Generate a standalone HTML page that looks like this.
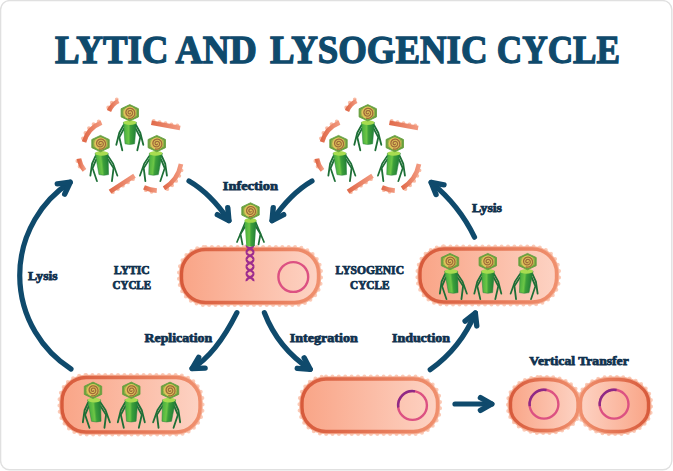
<!DOCTYPE html>
<html><head><meta charset="utf-8"><style>
html,body{margin:0;padding:0;background:#fff;width:673px;height:471px;overflow:hidden}
svg{display:block}
</style></head><body>
<svg width="673" height="471" viewBox="0 0 673 471">
<defs>
<linearGradient id="tailg" x1="0" y1="0" x2="1" y2="0">
<stop offset="0" stop-color="#44ac3e"/><stop offset="0.4" stop-color="#6cc646"/><stop offset="0.55" stop-color="#3c9f3a"/><stop offset="1" stop-color="#1f7c36"/></linearGradient>
<linearGradient id="fr" gradientUnits="objectBoundingBox" x1="0" y1="0" x2="1" y2="0"><stop offset="0" stop-color="#e06a4a"/><stop offset="1" stop-color="#f29a80"/></linearGradient>
<linearGradient id="fillA" gradientUnits="userSpaceOnUse" x1="181" y1="0" x2="319" y2="0"><stop offset="0" stop-color="#f9a486"/><stop offset="1" stop-color="#fdd3c4"/></linearGradient><linearGradient id="strA" gradientUnits="userSpaceOnUse" x1="181" y1="0" x2="319" y2="0"><stop offset="0" stop-color="#d75a3b"/><stop offset="1" stop-color="#f0906e"/></linearGradient><linearGradient id="fillB" gradientUnits="userSpaceOnUse" x1="419" y1="0" x2="558" y2="0"><stop offset="0" stop-color="#f9a486"/><stop offset="1" stop-color="#fdd3c4"/></linearGradient><linearGradient id="strB" gradientUnits="userSpaceOnUse" x1="419" y1="0" x2="558" y2="0"><stop offset="0" stop-color="#d75a3b"/><stop offset="1" stop-color="#f0906e"/></linearGradient><linearGradient id="fillC" gradientUnits="userSpaceOnUse" x1="60" y1="0" x2="202" y2="0"><stop offset="0" stop-color="#f9a486"/><stop offset="1" stop-color="#fdd3c4"/></linearGradient><linearGradient id="strC" gradientUnits="userSpaceOnUse" x1="60" y1="0" x2="202" y2="0"><stop offset="0" stop-color="#d75a3b"/><stop offset="1" stop-color="#f0906e"/></linearGradient><linearGradient id="fillD" gradientUnits="userSpaceOnUse" x1="300" y1="0" x2="439" y2="0"><stop offset="0" stop-color="#f9a486"/><stop offset="1" stop-color="#fdd3c4"/></linearGradient><linearGradient id="strD" gradientUnits="userSpaceOnUse" x1="300" y1="0" x2="439" y2="0"><stop offset="0" stop-color="#d75a3b"/><stop offset="1" stop-color="#f0906e"/></linearGradient><linearGradient id="fillE" gradientUnits="userSpaceOnUse" x1="509" y1="0" x2="579" y2="0"><stop offset="0" stop-color="#f9a486"/><stop offset="1" stop-color="#fdd3c4"/></linearGradient><linearGradient id="strE" gradientUnits="userSpaceOnUse" x1="509" y1="0" x2="579" y2="0"><stop offset="0" stop-color="#d75a3b"/><stop offset="1" stop-color="#f0906e"/></linearGradient><linearGradient id="fillF" gradientUnits="userSpaceOnUse" x1="579" y1="0" x2="650" y2="0"><stop offset="0" stop-color="#fdd3c4"/><stop offset="1" stop-color="#f9a486"/></linearGradient><linearGradient id="strF" gradientUnits="userSpaceOnUse" x1="579" y1="0" x2="650" y2="0"><stop offset="0" stop-color="#f0906e"/><stop offset="1" stop-color="#d75a3b"/></linearGradient>
<g id="phageHead" transform="scale(1.05)">
<polygon points="0,-7.8 8.3,-3.9 8.3,3.9 0,7.8 -8.3,3.9 -8.3,-3.9" fill="#68a03e" stroke="#68a03e" stroke-width="0.8" stroke-linejoin="round"/>
<polygon points="0,-6.3 6.8,-3.1 6.8,3.1 0,6.3 -6.8,3.1 -6.8,-3.1" fill="#9fb04a"/>
<circle r="5.9" fill="#dec45a"/>
<path d="M0.50,0.00 L0.55,0.10 L0.58,0.22 L0.59,0.35 L0.56,0.49 L0.50,0.63 L0.41,0.77 L0.28,0.89 L0.12,0.98 L-0.06,1.05 L-0.26,1.08 L-0.47,1.07 L-0.69,1.02 L-0.91,0.92 L-1.11,0.78 L-1.29,0.59 L-1.43,0.37 L-1.54,0.11 L-1.59,-0.18 L-1.59,-0.48 L-1.54,-0.78 L-1.42,-1.08 L-1.24,-1.37 L-1.01,-1.62 L-0.73,-1.83 L-0.40,-1.99 L-0.03,-2.09 L0.35,-2.12 L0.75,-2.08 L1.14,-1.97 L1.52,-1.78 L1.86,-1.51 L2.16,-1.19 L2.39,-0.80 L2.56,-0.36 L2.64,0.10 L2.64,0.59 L2.55,1.08 L2.36,1.55 L2.09,1.99 L1.73,2.39 L1.30,2.71 L0.81,2.96 L0.27,3.12 L-0.30,3.18 L-0.88,3.13 L-1.46,2.98 L-2.01,2.72 L-2.51,2.35 L-2.94,1.90 L-3.29,1.36 L-3.54,0.76 L-3.68,0.12 L-3.70,-0.56 L-3.60,-1.23 L-3.38,-1.89 L-3.03,-2.51 L-2.57,-3.06 L-2.01,-3.52 L-1.36,-3.88 L-0.65,-4.12 L0.10,-4.24 L0.87,-4.21 L1.64,-4.04 L2.37,-3.73 L3.04,-3.29 L3.63,-2.73 L4.12,-2.06 L4.48,-1.30 L4.70,-0.48 L4.77,0.38 L4.69,1.24 L4.44,2.09 L4.04,2.89 L3.50,3.61 L2.83,4.24 L2.05,4.73 L1.18,5.08 L0.25,5.27 L-0.71,5.29 L-1.67,5.14" fill="none" stroke="#a06a3a" stroke-width="1.25"/>
</g>
<g id="phageBody">
<g stroke="#1d6f36" stroke-width="1.8" fill="none" stroke-linecap="round" stroke-linejoin="round">
<polyline points="-6.3,12.5 -10.5,20 -13.5,32"/>
<polyline points="-6,16 -10.5,24.5 -7.5,37.5"/>
<polyline points="6.3,12.5 10.5,20 13.5,32"/>
<polyline points="6,16 10.5,24.5 7.5,37.5"/>
</g>
<path d="M-6.4,9.5 L6.6,9.5 L4.8,31 Q0,32.4 -4.8,31 Z" fill="url(#tailg)" stroke="#23803a" stroke-width="0.5"/>
<ellipse cx="0.1" cy="9.8" rx="6.5" ry="2.4" fill="#a8dc50"/>
</g>
</defs>
<style>
.ar{fill:none;stroke:#0f4a6c;stroke-width:5.2;stroke-linecap:round}
.ah{fill:none;stroke:#0f4a6c;stroke-width:5.4;stroke-linecap:round;stroke-linejoin:round}
text{font-family:"Liberation Serif",serif;font-weight:bold;fill:#10314e;stroke:#10314e;stroke-width:0.75}
</style>
<rect x="0.6" y="0.6" width="671.2" height="469.2" rx="9" fill="#fff" stroke="#e0e0e0" stroke-width="1.4"/>
<text x="55" y="62.6" font-size="39" textLength="113.5" lengthAdjust="spacingAndGlyphs" style="fill:#0f4a6c;stroke:#0f4a6c;stroke-width:1.3">LYTIC</text><text x="175.6" y="62.6" font-size="39" textLength="81.20000000000002" lengthAdjust="spacingAndGlyphs" style="fill:#0f4a6c;stroke:#0f4a6c;stroke-width:1.3">AND</text><text x="270" y="62.6" font-size="39" textLength="217.5" lengthAdjust="spacingAndGlyphs" style="fill:#0f4a6c;stroke:#0f4a6c;stroke-width:1.3">LYSOGENIC</text><text x="496.8" y="62.6" font-size="39" textLength="123.19999999999999" lengthAdjust="spacingAndGlyphs" style="fill:#0f4a6c;stroke:#0f4a6c;stroke-width:1.3">CYCLE</text><g transform="translate(0,0)">
<path d="M109,111 Q112,104 118.5,101" fill="none" stroke="#f9bba4" stroke-width="3.8" stroke-dasharray="0 6" stroke-dashoffset="-2" stroke-linecap="round" transform="translate(-1.70,-1.70)"/>
<path d="M109,111 Q112,104 118.5,101" fill="none" stroke="url(#fr)" stroke-width="4.6"/>
<path d="M151.4,122.7 L180.1,128" fill="none" stroke="#f9bba4" stroke-width="3.8" stroke-dasharray="0 6" stroke-dashoffset="-2" stroke-linecap="round" transform="translate(0.34,-2.04)"/>
<path d="M151.4,122.7 L180.1,128" fill="none" stroke="url(#fr)" stroke-width="4.6"/>
<path d="M84,142 Q88,128 101.5,122.6" fill="none" stroke="#f9bba4" stroke-width="3.8" stroke-dasharray="0 6" stroke-dashoffset="-2" stroke-linecap="round" transform="translate(-1.70,-1.70)"/>
<path d="M84,142 Q88,128 101.5,122.6" fill="none" stroke="url(#fr)" stroke-width="4.6"/>
<path d="M79,158.7 Q80,165 84.5,170.4" fill="none" stroke="#f9bba4" stroke-width="3.8" stroke-dasharray="0 6" stroke-dashoffset="-2" stroke-linecap="round" transform="translate(-2.04,0.34)"/>
<path d="M79,158.7 Q80,165 84.5,170.4" fill="none" stroke="url(#fr)" stroke-width="4.6"/>
<path d="M110,191.6 L134.5,175.7" fill="none" stroke="#f9bba4" stroke-width="3.8" stroke-dasharray="0 6" stroke-dashoffset="-2" stroke-linecap="round" transform="translate(1.19,1.70)"/>
<path d="M110,191.6 L134.5,175.7" fill="none" stroke="url(#fr)" stroke-width="4.6"/>
<path d="M144,187.4 Q150,190 156.8,190.6" fill="none" stroke="#f9bba4" stroke-width="3.8" stroke-dasharray="0 6" stroke-dashoffset="-2" stroke-linecap="round" transform="translate(0.00,2.04)"/>
<path d="M144,187.4 Q150,190 156.8,190.6" fill="none" stroke="url(#fr)" stroke-width="4.6"/>
<path d="M164,188.4 Q178,180 181,164" fill="none" stroke="#f9bba4" stroke-width="3.8" stroke-dasharray="0 6" stroke-dashoffset="-2" stroke-linecap="round" transform="translate(1.70,1.70)"/>
<path d="M164,188.4 Q178,180 181,164" fill="none" stroke="url(#fr)" stroke-width="4.6"/>
<g transform="translate(129.8,112.8) scale(1.0)"><use href="#phageBody" transform="skewX(0)"/><use href="#phageHead"/></g>
<g transform="translate(100.5,143.6) scale(1)"><use href="#phageBody" transform="skewX(6)"/><use href="#phageHead"/></g>
<g transform="translate(156.8,143.6) scale(1)"><use href="#phageBody" transform="skewX(-6)"/><use href="#phageHead"/></g>
</g><g transform="translate(238,0)">
<path d="M109,111 Q112,104 118.5,101" fill="none" stroke="#f9bba4" stroke-width="3.8" stroke-dasharray="0 6" stroke-dashoffset="-2" stroke-linecap="round" transform="translate(-1.70,-1.70)"/>
<path d="M109,111 Q112,104 118.5,101" fill="none" stroke="url(#fr)" stroke-width="4.6"/>
<path d="M151.4,122.7 L180.1,128" fill="none" stroke="#f9bba4" stroke-width="3.8" stroke-dasharray="0 6" stroke-dashoffset="-2" stroke-linecap="round" transform="translate(0.34,-2.04)"/>
<path d="M151.4,122.7 L180.1,128" fill="none" stroke="url(#fr)" stroke-width="4.6"/>
<path d="M84,142 Q88,128 101.5,122.6" fill="none" stroke="#f9bba4" stroke-width="3.8" stroke-dasharray="0 6" stroke-dashoffset="-2" stroke-linecap="round" transform="translate(-1.70,-1.70)"/>
<path d="M84,142 Q88,128 101.5,122.6" fill="none" stroke="url(#fr)" stroke-width="4.6"/>
<path d="M79,158.7 Q80,165 84.5,170.4" fill="none" stroke="#f9bba4" stroke-width="3.8" stroke-dasharray="0 6" stroke-dashoffset="-2" stroke-linecap="round" transform="translate(-2.04,0.34)"/>
<path d="M79,158.7 Q80,165 84.5,170.4" fill="none" stroke="url(#fr)" stroke-width="4.6"/>
<path d="M110,191.6 L134.5,175.7" fill="none" stroke="#f9bba4" stroke-width="3.8" stroke-dasharray="0 6" stroke-dashoffset="-2" stroke-linecap="round" transform="translate(1.19,1.70)"/>
<path d="M110,191.6 L134.5,175.7" fill="none" stroke="url(#fr)" stroke-width="4.6"/>
<path d="M144,187.4 Q150,190 156.8,190.6" fill="none" stroke="#f9bba4" stroke-width="3.8" stroke-dasharray="0 6" stroke-dashoffset="-2" stroke-linecap="round" transform="translate(0.00,2.04)"/>
<path d="M144,187.4 Q150,190 156.8,190.6" fill="none" stroke="url(#fr)" stroke-width="4.6"/>
<path d="M164,188.4 Q178,180 181,164" fill="none" stroke="#f9bba4" stroke-width="3.8" stroke-dasharray="0 6" stroke-dashoffset="-2" stroke-linecap="round" transform="translate(1.70,1.70)"/>
<path d="M164,188.4 Q178,180 181,164" fill="none" stroke="url(#fr)" stroke-width="4.6"/>
<g transform="translate(129.8,112.8) scale(1.0)"><use href="#phageBody" transform="skewX(0)"/><use href="#phageHead"/></g>
<g transform="translate(100.5,143.6) scale(1)"><use href="#phageBody" transform="skewX(6)"/><use href="#phageHead"/></g>
<g transform="translate(156.8,143.6) scale(1)"><use href="#phageBody" transform="skewX(-6)"/><use href="#phageHead"/></g>
</g><path d="M189,181 Q210.8,193.7 228.9,220.6" class="ar"/><path d="M227.78,207.65 L228.90,220.60 L217.32,214.69" class="ah"/><path d="M312,181 Q290.2,193.7 272.1,220.6" class="ar"/><path d="M283.68,214.69 L272.10,220.60 L273.22,207.65" class="ah"/><path d="M71,369 A111.1,111.1 0 0 1 70.2,182.3" class="ar"/><path d="M57.29,183.86 L70.20,182.30 L64.68,194.07" class="ah"/><path d="M236.9,312.7 Q216.1,354.3 192.1,368.5" class="ar"/><path d="M205.09,368.13 L192.10,368.50 L198.68,357.29" class="ah"/><path d="M264.4,312.7 Q278.1,348.2 310.2,369.3" class="ar"/><path d="M304.16,357.79 L310.20,369.30 L297.24,368.32" class="ah"/><path d="M430.2,369.7 Q460.8,347.9 475.3,313" class="ar"/><path d="M465.12,321.08 L475.30,313.00 L476.76,325.92" class="ah"/><path d="M474.5,237.2 Q459.4,205.5 431.2,182.5" class="ar"/><path d="M436.03,194.57 L431.20,182.50 L443.99,184.80" class="ah"/><path d="M455,404 L491.8,404" class="ar"/><path d="M480.43,397.70 L491.80,404.00 L480.43,410.30" class="ah"/><path d="M205.50,246.90 L294.50,246.90 A26.60,26.60 0 0 1 321.10,273.50 L321.10,278.50 A26.60,26.60 0 0 1 294.50,305.10 L205.50,305.10 A26.60,26.60 0 0 1 178.90,278.50 L178.90,273.50 A26.60,26.60 0 0 1 205.50,246.90 Z" fill="none" stroke="#fbcbb8" stroke-width="4.0" stroke-dasharray="0 6.4" stroke-linecap="round"/><path d="M205.50,246.80 L294.50,246.80 A26.70,26.70 0 0 1 321.20,273.50 L321.20,278.50 A26.70,26.70 0 0 1 294.50,305.20 L205.50,305.20 A26.70,26.70 0 0 1 178.80,278.50 L178.80,273.50 A26.70,26.70 0 0 1 205.50,246.80 Z" fill="#f6b096"/><path d="M205.50,249.50 L294.50,249.50 A24.00,24.00 0 0 1 318.50,273.50 L318.50,278.50 A24.00,24.00 0 0 1 294.50,302.50 L205.50,302.50 A24.00,24.00 0 0 1 181.50,278.50 L181.50,273.50 A24.00,24.00 0 0 1 205.50,249.50 Z" fill="url(#fillA)" stroke="url(#strA)" stroke-width="3.4"/><path d="M444.00,246.40 L532.50,246.40 A26.60,26.60 0 0 1 559.10,273.00 L559.10,278.00 A26.60,26.60 0 0 1 532.50,304.60 L444.00,304.60 A26.60,26.60 0 0 1 417.40,278.00 L417.40,273.00 A26.60,26.60 0 0 1 444.00,246.40 Z" fill="none" stroke="#fbcbb8" stroke-width="4.0" stroke-dasharray="0 6.4" stroke-linecap="round"/><path d="M444.00,246.30 L532.50,246.30 A26.70,26.70 0 0 1 559.20,273.00 L559.20,278.00 A26.70,26.70 0 0 1 532.50,304.70 L444.00,304.70 A26.70,26.70 0 0 1 417.30,278.00 L417.30,273.00 A26.70,26.70 0 0 1 444.00,246.30 Z" fill="#f6b096"/><path d="M444.00,249.00 L532.50,249.00 A24.00,24.00 0 0 1 556.50,273.00 L556.50,278.00 A24.00,24.00 0 0 1 532.50,302.00 L444.00,302.00 A24.00,24.00 0 0 1 420.00,278.00 L420.00,273.00 A24.00,24.00 0 0 1 444.00,249.00 Z" fill="url(#fillB)" stroke="url(#strB)" stroke-width="3.4"/><path d="M86.00,374.90 L176.00,374.90 A26.60,26.60 0 0 1 202.60,401.50 L202.60,408.00 A26.60,26.60 0 0 1 176.00,434.60 L86.00,434.60 A26.60,26.60 0 0 1 59.40,408.00 L59.40,401.50 A26.60,26.60 0 0 1 86.00,374.90 Z" fill="none" stroke="#fbcbb8" stroke-width="4.0" stroke-dasharray="0 6.4" stroke-linecap="round"/><path d="M86.00,374.80 L176.00,374.80 A26.70,26.70 0 0 1 202.70,401.50 L202.70,408.00 A26.70,26.70 0 0 1 176.00,434.70 L86.00,434.70 A26.70,26.70 0 0 1 59.30,408.00 L59.30,401.50 A26.70,26.70 0 0 1 86.00,374.80 Z" fill="#f6b096"/><path d="M86.00,377.50 L176.00,377.50 A24.00,24.00 0 0 1 200.00,401.50 L200.00,408.00 A24.00,24.00 0 0 1 176.00,432.00 L86.00,432.00 A24.00,24.00 0 0 1 62.00,408.00 L62.00,401.50 A24.00,24.00 0 0 1 86.00,377.50 Z" fill="url(#fillC)" stroke="url(#strC)" stroke-width="3.4"/><path d="M326.00,376.40 L413.50,376.40 A26.60,26.60 0 0 1 440.10,403.00 L440.10,407.50 A26.60,26.60 0 0 1 413.50,434.10 L326.00,434.10 A26.60,26.60 0 0 1 299.40,407.50 L299.40,403.00 A26.60,26.60 0 0 1 326.00,376.40 Z" fill="none" stroke="#fbcbb8" stroke-width="4.0" stroke-dasharray="0 6.4" stroke-linecap="round"/><path d="M326.00,376.30 L413.50,376.30 A26.70,26.70 0 0 1 440.20,403.00 L440.20,407.50 A26.70,26.70 0 0 1 413.50,434.20 L326.00,434.20 A26.70,26.70 0 0 1 299.30,407.50 L299.30,403.00 A26.70,26.70 0 0 1 326.00,376.30 Z" fill="#f6b096"/><path d="M326.00,379.00 L413.50,379.00 A24.00,24.00 0 0 1 437.50,403.00 L437.50,407.50 A24.00,24.00 0 0 1 413.50,431.50 L326.00,431.50 A24.00,24.00 0 0 1 302.00,407.50 L302.00,403.00 A24.00,24.00 0 0 1 326.00,379.00 Z" fill="url(#fillD)" stroke="url(#strD)" stroke-width="3.4"/><rect x="507.9" y="376.9" width="72.7" height="56.2" rx="32.6" ry="25.6" fill="none" stroke="#fbcbb8" stroke-width="4.0" stroke-dasharray="0 6.4" stroke-linecap="round"/><rect x="577.9" y="376.9" width="73.2" height="57.2" rx="32.6" ry="25.6" fill="none" stroke="#fbcbb8" stroke-width="4.0" stroke-dasharray="0 6.4" stroke-linecap="round"/><rect x="507.6" y="376.6" width="73.3" height="56.8" rx="32.9" ry="25.9" fill="#f6b096"/><rect x="577.6" y="376.6" width="73.8" height="57.8" rx="32.9" ry="25.9" fill="#f6b096"/><rect x="510.5" y="379.5" width="67.5" height="51.0" rx="30" ry="23" fill="url(#fillE)" stroke="url(#strE)" stroke-width="3.4"/><rect x="580.5" y="379.5" width="68.0" height="52.0" rx="30" ry="23" fill="url(#fillF)" stroke="url(#strF)" stroke-width="3.4"/><path d="M246.8,245.0 C245.5,248.6 254.5,248.6 253.2,252.2 M253.2,245.0 C254.5,248.6 245.5,248.6 246.8,252.2 M246.8,252.2 C245.5,255.8 254.5,255.8 253.2,259.4 M253.2,252.2 C254.5,255.8 245.5,255.8 246.8,259.4 M246.8,259.4 C245.5,263.0 254.5,263.0 253.2,266.6 M253.2,259.4 C254.5,263.0 245.5,263.0 246.8,266.6 M246.8,266.6 C245.5,270.2 254.5,270.2 253.2,273.8 M253.2,266.6 C254.5,270.2 245.5,270.2 246.8,273.8 M246.8,273.8 C245.5,277.4 254.5,277.4 253.2,281.0 M253.2,273.8 C254.5,277.4 245.5,277.4 246.8,281.0" fill="none" stroke="#9e2c8e" stroke-width="2.3"/><g transform="translate(250.5,211)">
<g stroke="#1d6f36" stroke-width="1.7" fill="none" stroke-linecap="round" stroke-linejoin="round">
<polyline points="-5.5,12 -13.5,31"/><polyline points="-5,15 -10,23 -8,33.5"/>
<polyline points="5.5,12 13.5,31"/><polyline points="5,15 10,23 8,33.5"/></g>
<path d="M-5.9,9.5 L5.9,9.5 L4.2,35 Q0,36.2 -4.2,35 Z" fill="url(#tailg)"/>
<ellipse cx="0" cy="9.5" rx="5.9" ry="2.3" fill="#a2d84a"/>
<use href="#phageHead"/></g><circle cx="293.3" cy="277" r="14.9" fill="none" stroke="#dc5182" stroke-width="2.4"/><circle cx="412.5" cy="405.5" r="14.4" fill="none" stroke="#dc5182" stroke-width="2.4"/><path d="M398.24,407.50 A14.4,14.4 0 0 1 415.00,391.32" fill="none" stroke="#8e2a86" stroke-width="2.4"/><circle cx="544" cy="404.2" r="14.4" fill="none" stroke="#dc5182" stroke-width="2.4"/><path d="M529.74,406.20 A14.4,14.4 0 0 1 546.50,390.02" fill="none" stroke="#8e2a86" stroke-width="2.4"/><circle cx="614.1" cy="404.2" r="14.4" fill="none" stroke="#dc5182" stroke-width="2.4"/><path d="M599.84,406.20 A14.4,14.4 0 0 1 616.60,390.02" fill="none" stroke="#8e2a86" stroke-width="2.4"/><g transform="translate(450,261.6) scale(1)"><use href="#phageBody" transform="skewX(6)"/><use href="#phageHead"/></g><g transform="translate(487.8,261.6) scale(1)"><use href="#phageBody" transform="skewX(0)"/><use href="#phageHead"/></g><g transform="translate(527.5,261.6) scale(1)"><use href="#phageBody" transform="skewX(-6)"/><use href="#phageHead"/></g><g transform="translate(93,390.3) scale(1)"><use href="#phageBody" transform="skewX(6)"/><use href="#phageHead"/></g><g transform="translate(131.3,390.3) scale(1)"><use href="#phageBody" transform="skewX(0)"/><use href="#phageHead"/></g><g transform="translate(170,390.3) scale(1)"><use href="#phageBody" transform="skewX(-6)"/><use href="#phageHead"/></g><text x="222.8" y="190" font-size="13" textLength="55.19999999999999" lengthAdjust="spacingAndGlyphs">Infection</text><text x="28" y="279.5" font-size="13" textLength="29.5" lengthAdjust="spacingAndGlyphs">Lysis</text><text x="114" y="274.3" font-size="11.5" textLength="35.69999999999999" lengthAdjust="spacingAndGlyphs">LYTIC</text><text x="112.5" y="288.9" font-size="11.5" textLength="38.5" lengthAdjust="spacingAndGlyphs">CYCLE</text><text x="335.6" y="274.3" font-size="11.5" textLength="68.39999999999998" lengthAdjust="spacingAndGlyphs">LYSOGENIC</text><text x="350" y="288.9" font-size="11.5" textLength="39.39999999999998" lengthAdjust="spacingAndGlyphs">CYCLE</text><text x="144.5" y="342" font-size="13" textLength="67.69999999999999" lengthAdjust="spacingAndGlyphs">Replication</text><text x="289.8" y="341.8" font-size="13" textLength="68.0" lengthAdjust="spacingAndGlyphs">Integration</text><text x="392" y="341.8" font-size="13" textLength="58" lengthAdjust="spacingAndGlyphs">Induction</text><text x="472" y="212" font-size="13" textLength="30" lengthAdjust="spacingAndGlyphs">Lysis</text><text x="529.3" y="364.7" font-size="13" textLength="99.40000000000009" lengthAdjust="spacingAndGlyphs">Vertical Transfer</text></svg>
</body></html>
